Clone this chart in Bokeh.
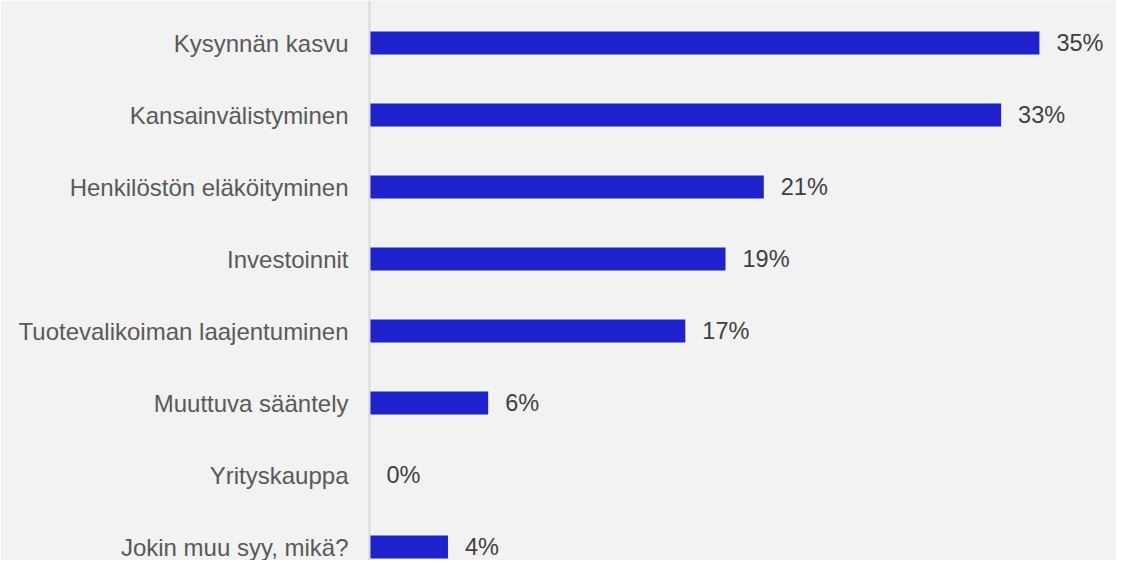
from bokeh.plotting import figure
from bokeh.models import Range1d, FixedTicker, ColumnDataSource
from bokeh.core.properties import value
from bokeh.embed import file_html
from bokeh.resources import INLINE

categories = [
    "Kysynnän kasvu",
    "Kansainvälistyminen",
    "Henkilöstön eläköityminen",
    "Investoinnit",
    "Tuotevalikoiman laajentuminen",
    "Muuttuva sääntely",
    "Yrityskauppa",
    "Jokin muu syy, mikä?",
]
values = [35.0, 33.0, 20.6, 18.6, 16.5, 6.2, 0.0, 4.1]
value_labels = ["35%", "33%", "21%", "19%", "17%", "6%", "0%", "4%"]

positions = list(range(len(categories)))

FONT = "Liberation Sans"
BG = "#f2f2f2"

src = ColumnDataSource(dict(y=positions, v=values, lab=value_labels))

W, H = 1116, 560
LEFT = 369
TOP = 42.5 / 72.0
p = figure(
    width=W, height=H,
    output_backend="svg", toolbar_location=None,
    x_axis_location=None,
    x_range=Range1d(0, (W - LEFT) / 19.14),
    y_range=Range1d(start=-TOP + H / 72.0, end=-TOP),
    min_border_left=LEFT, min_border_right=0, min_border_top=0, min_border_bottom=0,
)
p.background_fill_color = BG
p.border_fill_color = BG
p.outline_line_color = None
p.xgrid.visible = False
p.ygrid.visible = False

p.hbar(y="y", left=0, right="v", height=0.32, source=src,
       fill_color="#1d22cd", line_color=None)

p.text(x="v", y="y", text="lab", source=src, x_offset=17,
       text_align="left", text_baseline="middle",
       text_font=value(FONT), text_font_size="23.5px", text_color="#404040")

ax = p.yaxis[0]
ax.ticker = FixedTicker(ticks=positions)
ax.major_label_overrides = {i: c for i, c in zip(positions, categories)}
ax.major_tick_line_color = None
ax.minor_tick_line_color = None
ax.major_tick_out = 0
ax.major_tick_in = 0
ax.major_label_standoff = 21
ax.axis_line_color = "#d9d9d9"
ax.axis_line_width = 2
ax.major_label_text_font = FONT
ax.major_label_text_font_size = "24px"
ax.major_label_text_color = "#595959"

open("out.html", "w").write(file_html(p, INLINE))
